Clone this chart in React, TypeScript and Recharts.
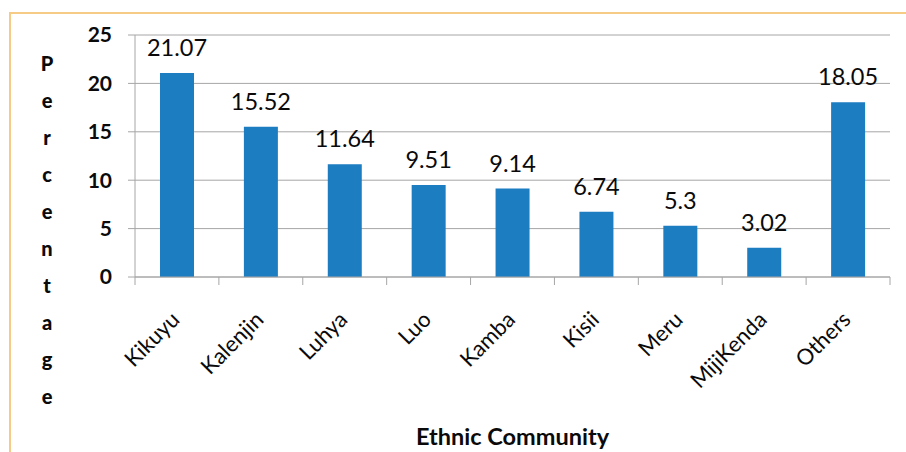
import React from "react";
import { BarChart, Bar, XAxis, YAxis, CartesianGrid, LabelList } from "recharts";

const categories = ["Kikuyu", "Kalenjin", "Luhya", "Luo", "Kamba", "Kisii", "Meru", "MijiKenda", "Others"];
const percentages = [21.07, 15.52, 11.64, 9.51, 9.14, 6.74, 5.3, 3.02, 18.05];
const yTicks = [0, 5, 10, 15, 20, 25];
const yLabelLetters = ["P", "e", "r", "c", "e", "n", "t", "a", "g", "e"];
const xTitle = "Ethnic Community";

const data = categories.map((c, i) => ({ name: c, value: percentages[i] }));

const W = 906;
const H = 452;
const MARGIN = { top: 35, right: 16, left: 0, bottom: 0 };
const Y_AXIS_W = 135;
const X_AXIS_H = 175;
const PLOT_W = W - MARGIN.left - MARGIN.right - Y_AXIS_W;
const FONT = "Lato, 'Open Sans', sans-serif";
const GRID = "#A6A6A6";
const BAR = "#1D7DC1";

const XTick = (props: any) => {
  const { x, y, payload, index } = props;
  const band = PLOT_W / categories.length;
  const left = x - band / 2;
  const right = x + band / 2;
  return (
    <g>
      <line x1={left} x2={left} y1={y} y2={y + 8} stroke={GRID} strokeWidth={1} />
      {index === categories.length - 1 && (
        <line x1={right} x2={right} y1={y} y2={y + 8} stroke={GRID} strokeWidth={1} />
      )}
      <text
        x={x + 4}
        y={y + 44}
        transform={`rotate(-45, ${x + 4}, ${y + 44})`}
        textAnchor="end"
        fontFamily={FONT}
        fontSize={22}
        fill="#0a0a0a"
      >
        {payload.value}
      </text>
    </g>
  );
};

const YLetters = (props: any) => {
  const vb = props.viewBox || { x: 0, y: 35 };
  return (
    <g>
      {yLabelLetters.map((ch, i) => (
        <text
          key={i}
          x={vb.x + 47}
          y={63 + i * 37}
          textAnchor="middle"
          dominantBaseline="central"
          fontFamily={FONT}
          fontWeight="900"
          fontSize={20}
          fill="#0a0a0a"
        >
          {ch}
        </text>
      ))}
    </g>
  );
};

const XTitle = (props: any) => {
  const vb = props.viewBox || { x: 135, y: 277, width: 755, height: 175 };
  return (
    <text
      x={vb.x + vb.width / 2}
      y={vb.y + 168}
      textAnchor="middle"
      fontFamily={FONT}
      fontWeight="bold"
      fontSize={23.5}
      fill="#0a0a0a"
    >
      {xTitle}
    </text>
  );
};

export default function App() {
  return (
    <div style={{ position: "absolute", left: 0, top: 0, width: W, height: H, overflow: "hidden", background: "#fff" }}>
      <div
        style={{
          position: "absolute",
          left: 9,
          top: 12,
          width: W,
          height: H,
          borderTop: "2px solid #F5CB86",
          borderLeft: "2px solid #F5CB86",
          boxSizing: "border-box",
        }}
      />
      <div style={{ position: "absolute", left: 0, top: 0 }}>
        <BarChart width={W} height={H} data={data} margin={MARGIN}>
          <CartesianGrid vertical={false} stroke={GRID} strokeWidth={1} />
          <XAxis
            dataKey="name"
            height={X_AXIS_H}
            interval={0}
            tickLine={false}
            tickSize={0}
            tickMargin={0}
            axisLine={{ stroke: GRID }}
            tick={<XTick />}
            label={<XTitle />}
          />
          <YAxis
            width={Y_AXIS_W}
            domain={[0, 25]}
            ticks={yTicks}
            interval={0}
            tickSize={7}
            tickMargin={16}
            axisLine={{ stroke: GRID }}
            tickLine={{ stroke: GRID }}
            tick={{ fontFamily: FONT, fontWeight: "bold", fontSize: 21, fill: "#0a0a0a" }}
            label={<YLetters />}
          />
          <Bar dataKey="value" fill={BAR} barSize={34} isAnimationActive={false}>
            <LabelList
              dataKey="value"
              position="top"
              offset={17}
              fontFamily={FONT}
              fontSize={23.5}
              fill="#0a0a0a"
            />
          </Bar>
        </BarChart>
      </div>
    </div>
  );
}
